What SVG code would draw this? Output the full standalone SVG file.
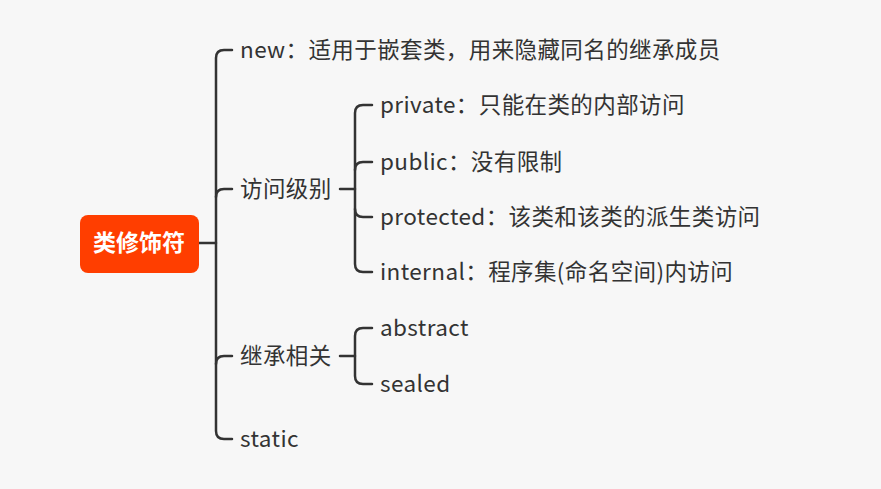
<svg xmlns="http://www.w3.org/2000/svg" width="881" height="489" viewBox="0 0 881 489">
<style>
.t{font-family:"Noto Sans CJK SC","Noto Sans",sans-serif;font-size:22.5px;letter-spacing:0.4px;fill:#333333}
.c{fill:none;stroke:#333333;stroke-width:2.5;stroke-linecap:round;stroke-linejoin:round}
</style>
<rect width="881" height="489" fill="#f7f7f7"/>
<g id="connectors">
<path class="c" d="M199 243H216"/>
<path class="c" d="M232 50H224Q216 50 216 58V431Q216 439 224 439H232"/>
<path class="c" d="M216 197Q216 189 224 189H232"/>
<path class="c" d="M216 364Q216 356 224 356H232"/>
<path class="c" d="M340 189H355"/>
<path class="c" d="M372 105H363Q355 105 355 113V264Q355 272 363 272H372"/>
<path class="c" d="M355 170Q355 162 363 162H372"/>
<path class="c" d="M355 209Q355 217 363 217H372"/>
<path class="c" d="M340 356H355"/>
<path class="c" d="M372 328H363Q355 328 355 336V376Q355 384 363 384H372"/>
</g>
<g id="root">
<rect x="80" y="215" width="119" height="58" rx="8" fill="#ff3e00"/>
<text x="139" y="251" text-anchor="middle" style="font-family:'Noto Sans CJK SC',sans-serif;font-size:23px;font-weight:bold;fill:#ffffff">类修饰符</text>
</g>
<g id="n-new"><text class="t" x="240" y="58">new：适用于嵌套类，用来隐藏同名的继承成员</text></g>
<g id="n-access"><text class="t" x="240" y="197">访问级别</text></g>
<g id="n-private"><text class="t" x="380" y="113">private：只能在类的内部访问</text></g>
<g id="n-public"><text class="t" x="380" y="170">public：没有限制</text></g>
<g id="n-protected"><text class="t" x="380" y="225">protected：该类和该类的派生类访问</text></g>
<g id="n-internal"><text class="t" x="380" y="280">internal：程序集(命名空间)内访问</text></g>
<g id="n-inherit"><text class="t" x="240" y="364">继承相关</text></g>
<g id="n-abstract"><text class="t" x="380" y="336">abstract</text></g>
<g id="n-sealed"><text class="t" x="380" y="392">sealed</text></g>
<g id="n-static"><text class="t" x="240" y="447">static</text></g>
</svg>
